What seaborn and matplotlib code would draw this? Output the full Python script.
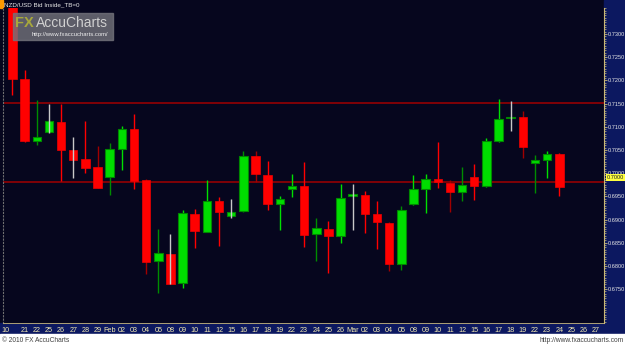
import matplotlib
matplotlib.use("Agg")
import matplotlib.pyplot as plt
import matplotlib.transforms as mtransforms
from matplotlib.patches import Rectangle
from matplotlib.ticker import MultipleLocator, FixedLocator
import numpy as np
import pandas as pd
import seaborn as sns

# ---------------- data ----------------
date_labels = ["10", "21", "22", "25", "26", "27", "28", "29", "Feb", "02",
               "03", "04", "05", "08", "09", "10", "11", "12", "15", "16",
               "17", "18", "19", "22", "23", "24", "25", "26", "Mar", "02",
               "03", "04", "05", "08", "09", "10", "11", "12", "15", "16",
               "17", "18", "19", "22", "23", "24", "25", "26", "27"]

opens = [0.7365, 0.7203, 0.7070, 0.7089, 0.7111, 0.7049, 0.7031, 0.7013, 0.6991, 0.7052,
         0.7095, 0.6985, 0.6811, 0.6826, 0.6764, 0.6912, 0.6874, 0.6941, 0.6908, 0.6918,
         0.7036, 0.6997, 0.6934, 0.6966, 0.6973, 0.6869, 0.6880, 0.6865, 0.6951, 0.6953,
         0.6912, 0.6893, 0.6805, 0.6934, 0.6966, 0.6988, 0.6979, 0.6960, 0.6992, 0.6973,
         0.7069, 0.7118, 0.7120, 0.7021, 0.7029, 0.7041]
highs = [0.7390, 0.7222, 0.7158, 0.7149, 0.7149, 0.7079, 0.7113, 0.7059, 0.7064, 0.7102,
         0.7128, 0.6987, 0.6880, 0.6868, 0.6921, 0.6922, 0.6985, 0.6949, 0.6944, 0.7048,
         0.7048, 0.7026, 0.6951, 0.6998, 0.7024, 0.6904, 0.6896, 0.6977, 0.6976, 0.6962,
         0.6940, 0.6895, 0.6929, 0.6997, 0.6998, 0.7068, 0.6985, 0.7014, 0.7020, 0.7075,
         0.7160, 0.7156, 0.7135, 0.7039, 0.7048, 0.7044]
lows = [0.7169, 0.7068, 0.7061, 0.7086, 0.6983, 0.6990, 0.7001, 0.6967, 0.6952, 0.7007,
        0.6966, 0.6782, 0.6742, 0.6760, 0.6752, 0.6838, 0.6873, 0.6843, 0.6904, 0.6916,
        0.6980, 0.6920, 0.6878, 0.6949, 0.6840, 0.6811, 0.6784, 0.6849, 0.6878, 0.6871,
        0.6837, 0.6789, 0.6791, 0.6931, 0.6914, 0.6967, 0.6917, 0.6939, 0.6942, 0.6970,
        0.7067, 0.7091, 0.7032, 0.6958, 0.6990, 0.6951]
closes = [0.7203, 0.7070, 0.7077, 0.7113, 0.7049, 0.7028, 0.7012, 0.6969, 0.7052, 0.7095,
          0.6983, 0.6809, 0.6827, 0.6761, 0.6914, 0.6876, 0.6941, 0.6917, 0.6917, 0.7036,
          0.6999, 0.6934, 0.6944, 0.6973, 0.6867, 0.6881, 0.6865, 0.6946, 0.6953, 0.6913,
          0.6894, 0.6805, 0.6920, 0.6966, 0.6988, 0.6980, 0.6960, 0.6974, 0.6973, 0.7069,
          0.7117, 0.7120, 0.7056, 0.7028, 0.7041, 0.6970]
# bar class shown by the wick: n = normal, d = dim, g = inside (grey)
bar_class = ["n", "n", "d", "g", "n", "g", "n", "d", "d", "n",
             "n", "d", "d", "g", "n", "n", "n", "n", "g", "d",
             "d", "n", "n", "n", "n", "d", "n", "n", "g", "n",
             "n", "d", "d", "n", "n", "n", "d", "d", "n", "n",
             "n", "g", "d", "d", "n", "n"]

resistance = 0.7152
support = 0.6982
price_ticks = [0.6750, 0.6800, 0.6850, 0.6900, 0.6950, 0.7000,
               0.7050, 0.7100, 0.7150, 0.7200, 0.7250, 0.7300]
last_tag = "0.7000"
title = "NZD/USD Bid Inside_TB=0"
copyright_txt = "© 2010 FX AccuCharts"
url_txt = "http://www.fxaccucharts.com"

# ---------------- style ----------------
sns.set_style("dark")
plt.rcParams['font.family'] = ['Liberation Sans', 'DejaVu Sans']

W, H = 625, 346
BG = "#06061e"
NAVY = "#0c1860"
fig = plt.figure(figsize=(W / 100, H / 100), dpi=100, facecolor=BG)

def fx(x):
    return x / W

def fy(y):
    return 1 - y / H

# strips (behind the axes)
fig.patches.append(Rectangle((fx(604), fy(334)), 1 - fx(604), 1 - fy(334),
                             transform=fig.transFigure, color=NAVY, zorder=-2))
fig.patches.append(Rectangle((0, fy(334)), fx(604), fy(323) - fy(334),
                             transform=fig.transFigure, color=NAVY, zorder=-2))
fig.patches.append(Rectangle((0, 0), 1, fy(334),
                             transform=fig.transFigure, color="white", zorder=-2))
fig.patches.append(Rectangle((0, fy(8)), fx(2.5), 1 - fy(8),
                             transform=fig.transFigure, color="#ff9900", zorder=-1))

ax = fig.add_axes([fx(3), fy(323), fx(604) - fx(3), fy(8) - fy(323)])
ax.set_facecolor(BG)

df = pd.DataFrame({"open": opens, "high": highs, "low": lows,
                   "close": closes, "cls": bar_class})
df["idx"] = np.arange(len(df))
df["up"] = df["close"] >= df["open"]

wick_colors = {
    (True, "n"): "#00e000", (True, "d"): "#008c00", (True, "g"): "#c8c8c8",
    (False, "n"): "#ff0000", (False, "d"): "#a00000", (False, "g"): "#c8c8c8",
}

# horizontal levels
sns.lineplot(x=[-1, 49], y=[resistance, resistance], ax=ax, color="#a00000", lw=1.1, zorder=1)
sns.lineplot(x=[-1, 49], y=[support, support], ax=ax, color="#a00000", lw=1.1, zorder=1)

body_w = 0.7
min_h = 0.00035
for _, r in df.iterrows():
    wc = wick_colors[(bool(r.up), r.cls)]
    wz = 4 if r.cls == "g" else 2
    ax.vlines(r.idx, r.low, r.high, color=wc, lw=1.0, zorder=wz)
    lo = min(r.open, r.close)
    h = max(abs(r.close - r.open), min_h)
    if r.up:
        ax.bar(r.idx, h, bottom=lo, width=body_w, color="#00dd00",
               edgecolor="#008800", linewidth=0.8, zorder=3)
    else:
        ax.bar(r.idx, h, bottom=lo, width=body_w, color="#ff0000",
               edgecolor="#ee0000", linewidth=0.5, zorder=3)

ax.set_xlim(-0.78, 48.68)
ax.set_ylim(0.6677, 0.7356)

# axes styling
ax.spines["top"].set_visible(False)
ax.spines["right"].set_color("#c8b878")
ax.spines["right"].set_linewidth(0.8)
ax.spines["bottom"].set_color("#c8b878")
ax.spines["bottom"].set_linewidth(0.6)
ax.spines["left"].set_visible(True)
ax.spines["left"].set_color("#707070")
ax.spines["left"].set_linestyle((0, (1, 2)))
ax.spines["left"].set_linewidth(0.8)

ax.yaxis.tick_right()
ax.yaxis.set_major_locator(FixedLocator(price_ticks))
ax.set_yticklabels([f"{v:.4f}" for v in price_ticks])
ax.yaxis.set_minor_locator(MultipleLocator(0.0005))
ax.tick_params(axis="y", which="major", length=1.8, width=0.6, color="#c8b878",
               pad=0.8, labelsize=4.1, labelcolor="#e6e6e6")
ax.tick_params(axis="y", which="minor", length=1.2, width=0.5, color="#c8b878")
ax.set_xticks(np.arange(len(date_labels)))
ax.set_xticklabels(date_labels)
ax.tick_params(axis="x", length=1.5, width=0.5, color="#c8b878", pad=1.5,
               labelsize=5.2, labelcolor="#f0e8b0")
first = ax.get_xticklabels()[0]
first.set_transform(first.get_transform() +
                    mtransforms.ScaledTranslation(-7 / 100, 0, fig.dpi_scale_trans))
ax.grid(False)
ax.set_xlabel("")
ax.set_ylabel("")

# title and tags
fig.text(fx(4), fy(4.5), title, fontsize=4.5, color="#e8e8e8", va="center", ha="left")
ax.annotate(last_tag, xy=(1, support + 0.0008), xycoords=("axes fraction", "data"),
            xytext=(2.2, 0), textcoords="offset points", fontsize=4.1,
            color="#202020", va="center", ha="left", annotation_clip=False, zorder=10,
            bbox=dict(boxstyle="square,pad=0.15", fc="#ffff40", ec="none"))

# watermark
fig.patches.append(Rectangle((fx(13), fy(40)), fx(100), fy(13) - fy(40),
                             transform=fig.transFigure, color="#74747c",
                             alpha=0.8, zorder=5))
fig.text(fx(15), fy(23), "FX", fontsize=10.5, color="#a8a83c", fontweight="bold",
         va="center", ha="left", zorder=6)
fig.text(fx(36), fy(23), "AccuCharts", fontsize=10, color="#d0d0d0",
         va="center", ha="left", zorder=6)
fig.text(fx(32), fy(34.5), "http://www.fxaccucharts.com/", fontsize=4.2,
         color="#f0f0f0", va="center", ha="left", zorder=6)

# footer
fig.text(fx(2), fy(340.5), copyright_txt, fontsize=4.8, color="#404040",
         va="center", ha="left")
fig.text(fx(624), fy(340.5), url_txt, fontsize=4.8, color="#404040",
         va="center", ha="right")

fig.savefig("out.png", dpi=100, facecolor=fig.get_facecolor())
